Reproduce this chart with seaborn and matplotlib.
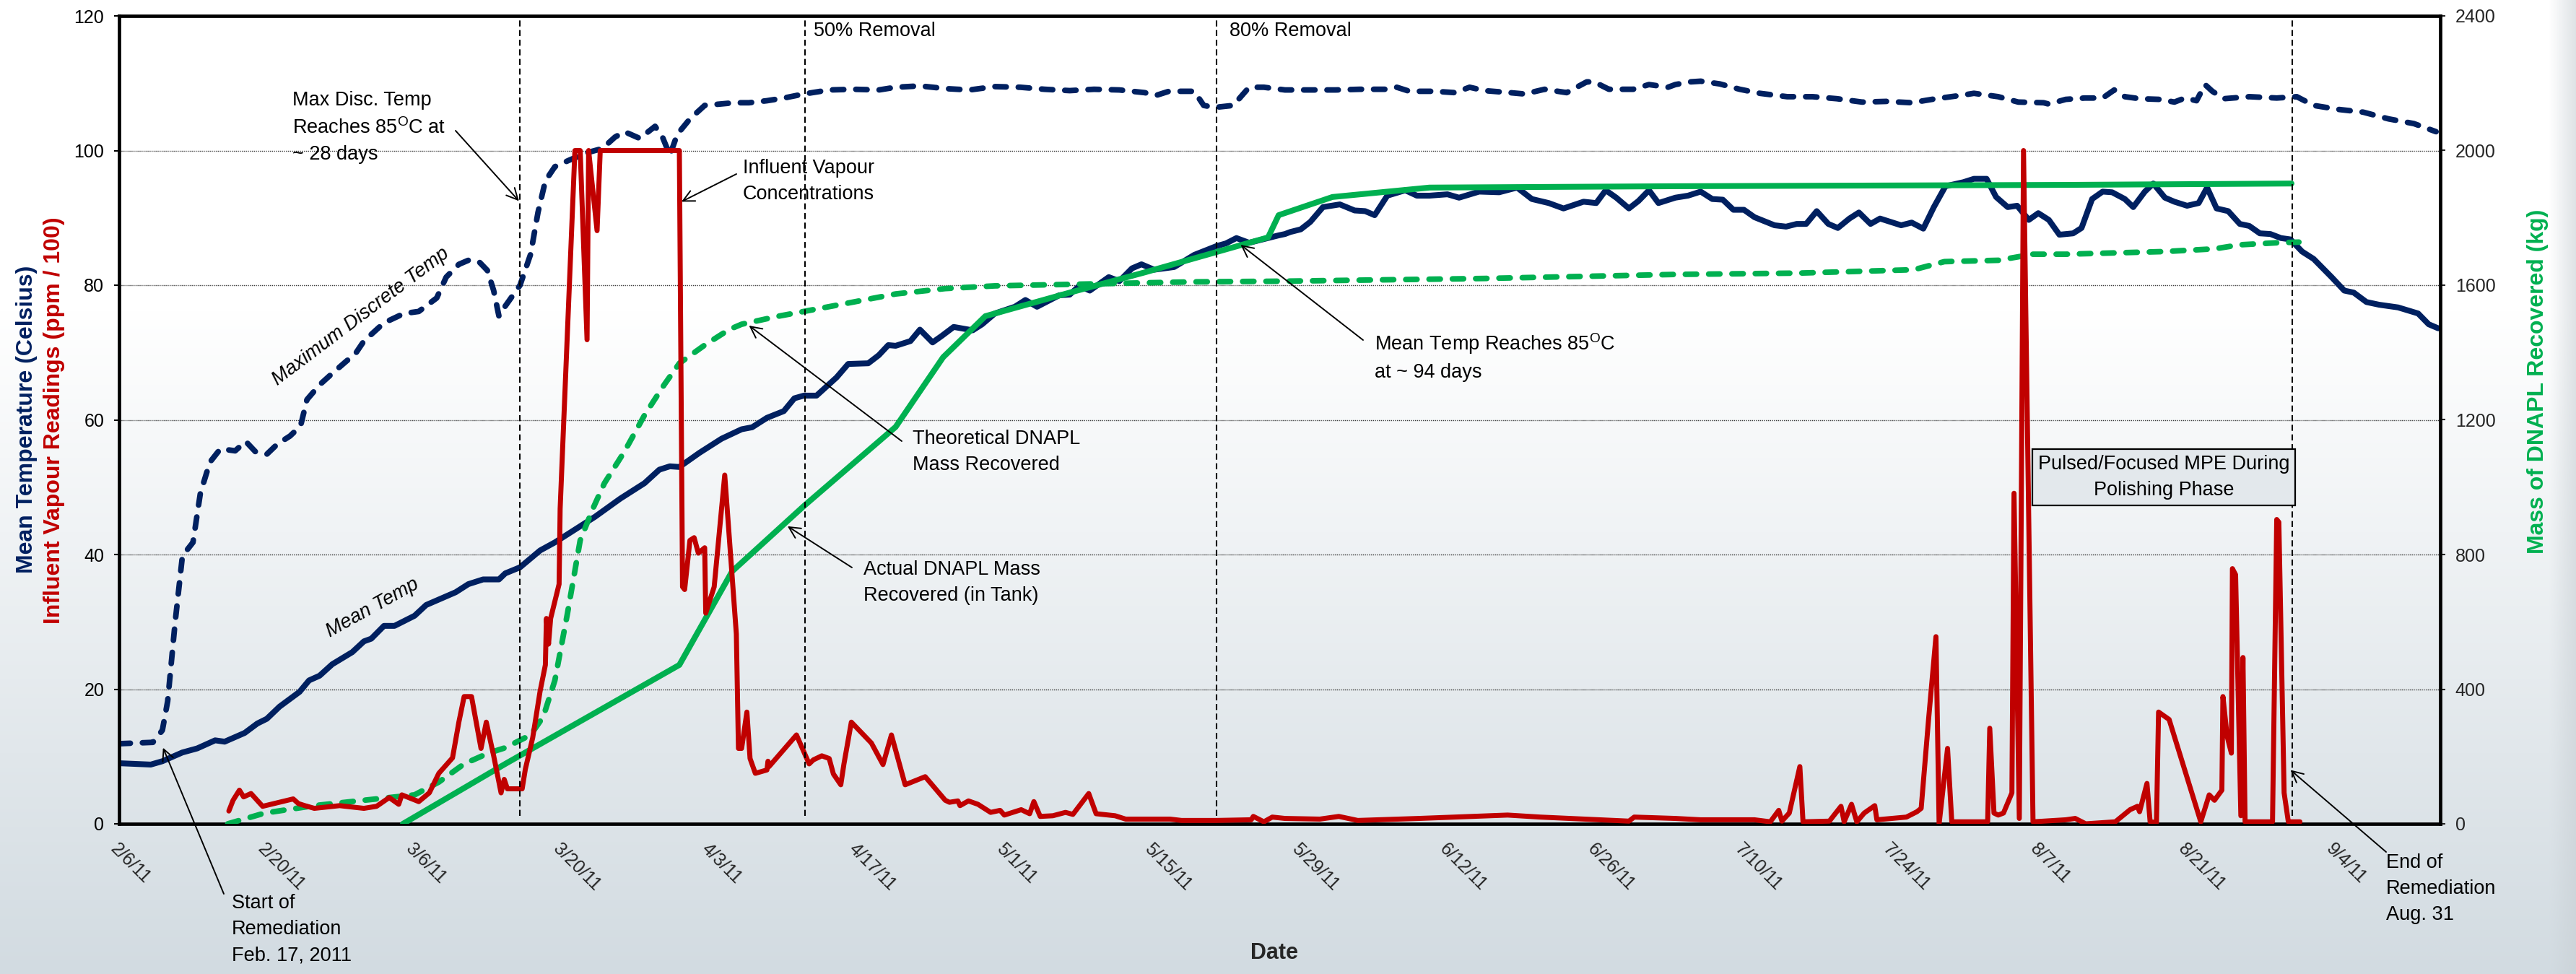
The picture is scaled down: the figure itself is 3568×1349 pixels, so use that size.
import numpy as np
import pandas as pd
import matplotlib
matplotlib.use("Agg")
import matplotlib.pyplot as plt
import matplotlib.dates as mdates
from matplotlib.transforms import ScaledTranslation
import seaborn as sns

# ---------------- data (x = days since 2011-02-06) ----------------
START = pd.Timestamp("2011-02-06")

mean_days = [0, 3.0, 4.1, 6.0, 7.4, 9.1, 10.0, 11.9, 13.1, 14.0, 15.2, 17.1, 18.0, 19.0, 20.2, 22.1,
             23.2, 23.9, 25.1, 26.1, 28.0, 29.1, 31.9, 33.1, 34.5, 36.0, 36.6, 38.0, 39.9, 41.3, 43.2,
             45.1, 47.5, 49.8, 51.2, 52.2, 53.1, 55.0, 57.1, 59.0, 60.0, 61.4, 63.0, 64.0, 64.9, 66.1,
             68.0, 69.1, 71.0, 72.0, 72.9, 73.6, 75.0, 75.9, 77.1, 78.0, 79.1, 80.9, 81.8, 83.0, 84.9,
             85.9, 87.0, 89.1, 90.1, 91.0, 92.0, 93.8, 94.8, 96.0, 96.9, 98.1, 100.0, 101.9, 104.0,
             104.9, 105.9, 107.1, 108.9, 109.9, 110.5, 111.0, 112.0, 112.9, 114.1, 115.7, 117.1, 118.1,
             119.0, 120.2, 121.9, 123.0, 124.2, 125.9, 127.0, 128.9, 130.8, 132.5, 133.9, 135.5, 136.9,
             138.8, 140.0, 140.9, 141.9, 143.1, 144.0, 145.0, 145.9, 147.5, 148.7, 149.9, 151.0, 152.0,
             153.0, 154.0, 155.0, 156.9, 158.0, 159.0, 159.9, 160.9, 162.0, 162.9, 164.0, 164.9, 166.0,
             166.9, 168.9, 169.9, 171.0, 172.0, 173.1, 174.8, 175.8, 177.0, 177.9, 179.0, 179.9, 181.0,
             181.9, 182.9, 183.9, 185.2, 186.0, 187.0, 188.0, 188.9, 190.1, 190.9, 192.0, 192.8, 193.9,
             194.8, 196.0, 197.1, 197.9, 198.8, 199.9, 201.0, 201.9, 202.9, 203.9, 204.9, 205.8, 206.9,
             208.0, 209.7, 210.9, 211.8, 213.0, 214.2, 216.0, 217.9, 218.9, 219.8]
mean_temp = [9.0, 8.8, 9.3, 10.6, 11.2, 12.4, 12.2, 13.5, 14.9, 15.6, 17.4, 19.6, 21.3, 22.0, 23.7, 25.5,
             27.1, 27.5, 29.4, 29.4, 30.9, 32.5, 34.4, 35.6, 36.3, 36.3, 37.2, 38.1, 40.6, 41.8, 43.7,
             45.6, 48.3, 50.6, 52.6, 53.1, 53.0, 55.1, 57.2, 58.6, 58.9, 60.3, 61.3, 63.2, 63.6, 63.6,
             66.3, 68.3, 68.4, 69.6, 71.1, 71.0, 71.7, 73.4, 71.5, 72.5, 73.8, 73.3, 74.2, 75.8, 76.8,
             77.8, 76.8, 78.5, 78.6, 79.9, 79.2, 81.2, 80.6, 82.5, 83.1, 82.3, 82.7, 84.5, 85.8,
             86.2, 87.0, 86.3, 87.0, 87.4, 87.6, 87.9, 88.3, 89.4, 91.6, 92.0, 91.1, 91.0,
             90.4, 93.3, 94.1, 93.3, 93.3, 93.5, 93.0, 93.9, 93.8, 94.5, 92.8, 92.2, 91.4,
             92.4, 92.2, 94.1, 93.0, 91.4, 92.5, 94.1, 92.2, 93.0, 93.3, 93.9, 92.8, 92.7,
             91.2, 91.2, 90.1, 88.9, 88.7, 89.1, 89.1, 91.0, 89.1, 88.5, 89.9, 90.8, 89.1,
             89.9, 88.9, 89.3, 88.4, 91.6, 94.7, 95.3, 95.8, 95.8, 93.1, 91.6, 91.8, 89.7,
             90.7, 89.7, 87.5, 87.7, 88.5, 92.8, 93.9, 93.8, 92.8, 91.6, 93.9, 95.1, 93.0,
             92.4, 91.8, 92.2, 94.5, 91.4, 91.0, 89.1, 88.8, 87.7, 87.6, 87.0, 86.8, 85.0,
             83.9, 81.2, 79.2, 78.9, 77.5, 77.1, 76.7, 75.8, 74.2, 73.6]

maxd_days = [0, 3.2, 4.1, 4.6, 5.3, 6.0, 7.0, 7.7, 8.6, 9.6, 11.0, 12.0, 12.9, 14.0, 15.0, 16.2, 17.2,
             17.8, 19.0, 20.2, 21.6, 22.3, 23.2, 25.1, 27.0, 28.4, 30.1, 31.0, 32.2, 33.1, 34.1, 34.9,
             35.5, 36.0, 36.6, 38.0, 39.0, 39.7, 40.4, 41.3, 42.7, 44.4, 45.8, 47.0, 47.9, 49.35, 50.8,
             51.5, 52.2, 52.9, 54.1, 55.5, 56.9, 58.3, 59.7, 61.4, 63.0, 64.9, 67.3, 69.6, 72.0, 73.6,
             75.9, 78.3, 80.6, 83.0, 85.4, 87.7, 90.1, 92.4, 94.8, 97.2, 98.3, 99.5, 101.9, 102.8, 103.8,
             105.6, 107.1, 108.5, 110.5, 112.9, 115.3, 117.6, 120.0, 121.1, 122.3, 124.7, 126.6, 128.0,
             129.4, 131.8, 133.2, 135.1, 137.2, 139.1, 139.8, 141.2, 143.5, 145.0, 146.8, 147.5, 148.9,
             149.9, 151.7, 153.6, 155.5, 158.1, 160.5, 162.8, 165.2, 167.5, 169.9, 172.2, 174.6, 175.8,
             178.1, 180.0, 182.4, 182.9, 184.5, 186.3, 188.0, 189.1, 190.1, 191.5, 193.4, 194.8, 195.8,
             196.9, 197.7, 198.4, 199.5, 201.9, 204.5, 206.4, 208.0, 210.4, 212.7, 215.1, 217.5, 219.6]
maxd_temp = [11.9, 12.1, 13.9, 18.2, 29.8, 39.8, 41.8, 49.1, 53.7, 55.7, 55.4, 56.8, 55.3, 54.9, 56.4,
             57.6, 59.1, 63.0, 65.2, 66.9, 68.8, 69.6, 71.7, 74.4, 75.8, 76.1, 78.1, 81.2, 83.1, 83.7,
             83.5, 82.2, 79.2, 75.4, 76.9, 80.0, 84.6, 90.8, 95.5, 97.6, 98.6, 99.7, 100.3, 102.0, 102.8,
             101.8, 103.6, 102.0, 99.3, 102.4, 104.7, 106.7, 106.9, 107.1, 107.1, 107.4, 107.8, 108.4,
             109.0, 109.1, 109.0, 109.4, 109.6, 109.2, 109.0, 109.5, 109.4, 109.1, 108.9, 109.1, 109.0,
             108.6, 108.2, 108.8, 108.8, 106.7, 106.4, 106.7, 109.4, 109.4, 109.0, 109.0, 109.0, 109.1,
             109.1, 109.4, 108.8, 108.8, 108.6, 109.4, 108.9, 108.6, 108.4, 109.1, 108.6, 110.2, 110.2,
             109.1, 109.1, 109.8, 109.4, 109.8, 110.2, 110.3, 109.9, 109.1, 108.5, 108.0, 108.0, 107.7,
             107.2, 107.3, 107.1, 107.7, 108.2, 108.5, 108.0, 107.2, 107.1, 106.9, 107.6, 107.8, 107.8,
             109.0, 108.0, 107.7, 107.6, 107.2, 107.8, 107.4, 109.8, 108.8, 107.7, 108.0, 107.8, 108.0,
             106.7, 106.1, 105.7, 104.7, 104.0, 102.8]

vap_days = [10.4, 10.8, 11.4, 11.8, 12.5, 13.6, 16.5, 17.0, 17.6, 18.5, 20.9, 23.2, 24.4, 25.6, 26.5,
            26.8, 28.4, 29.4, 30.3, 31.6, 32.2, 32.7, 33.4, 34.3, 34.8, 35.5, 36.2, 36.5, 36.8, 37.3,
            38.2, 38.5, 39.2, 39.9, 40.4, 40.5, 40.7, 40.9, 41.7, 41.8, 43.2, 43.7, 44.35, 44.5, 45.3,
            45.6, 53.1, 53.4, 53.6, 54.1, 54.5, 54.9, 55.5, 55.6, 56.4, 57.4, 58.1, 58.5, 58.7, 59.0,
            59.5, 59.8, 60.3, 61.4, 61.5, 61.6, 64.2, 65.4, 65.8, 66.6, 67.3, 67.7, 68.4, 68.7, 69.4,
            71.3, 72.4, 73.2, 74.5, 76.4, 78.3, 78.7, 79.5, 79.7, 80.5, 81.4, 82.3, 82.6, 83.5, 83.9,
            85.5, 86.3, 86.7, 87.3, 88.5, 89.7, 90.4, 91.9, 92.6, 94.4, 95.4, 99.6, 100.7, 104.0, 107.3,
            107.5, 108.5, 109.3, 110.5, 113.8, 115.6, 117.4, 123.2, 131.6, 134.7, 143.1, 143.6, 147.5,
            149.9, 152.2, 155.0, 156.5, 157.3, 157.6, 158.3, 159.3, 159.6, 162.1, 163.2, 163.5, 164.2,
            164.7, 165.4, 166.4, 166.6, 169.4, 170.4, 170.8, 171.5, 172.2, 172.5, 173.3, 173.7, 177.1,
            177.3, 177.7, 178.1, 178.6, 179.4, 179.6, 180.1, 180.5, 181.4, 184.5, 185.4, 186.4, 189.2,
            190.6, 191.3, 191.5, 192.2, 192.5, 193.1, 193.3, 194.3, 197.3, 198.1, 198.6, 199.3, 199.4,
            199.8, 200.2, 200.3, 200.6, 201.1, 201.3, 201.5, 204.1, 204.5, 204.7, 205.2, 205.6, 206.7]
vap_vals = [1.9, 3.5, 5.0, 4.0, 4.5, 2.6, 3.7, 3.0, 2.7, 2.3, 2.7, 2.3, 2.6, 3.9, 2.9,
            4.3, 3.3, 4.6, 7.5, 9.8, 15.1, 18.9, 18.9, 11.2, 15.1, 10.1, 4.6, 6.6, 5.2, 5.2,
            5.2, 8.1, 12.8, 19.7, 23.6, 30.5, 26.7, 30.5, 35.6, 46.8, 100, 100, 71.9, 100, 88.1,
            100, 100, 35.2, 34.8, 42.1, 42.5, 40.2, 41.0, 31.3, 35.2, 51.8, 36.7, 28.2, 11.2, 11.2,
            16.6, 9.7, 7.5, 8.0, 9.3, 8.5, 13.2, 8.9, 9.5, 10.1, 9.7, 7.4, 5.8, 8.9, 15.1,
            12.0, 8.8, 13.2, 5.8, 7.0, 3.5, 3.2, 3.4, 2.7, 3.4, 2.9, 2.0, 1.7, 2.0, 1.3,
            2.1, 1.5, 3.3, 1.1, 1.2, 1.7, 1.4, 4.5, 1.5, 1.2, 0.7, 0.7, 0.5, 0.5, 0.6,
            1.1, 0.3, 1.0, 0.8, 0.7, 1.1, 0.5, 0.8, 1.3, 1.0, 0.4, 1.0, 0.8,
            0.6, 0.6, 0.6, 0.3, 2.0, 0.4, 1.6, 8.5, 0.3, 0.4, 2.6, 0.3, 2.9,
            0.3, 1.6, 2.7, 0.6, 1.0, 1.8, 2.3, 15.5, 27.8, 0.0, 11.2, 0.3, 0.3,
            14.2, 1.6, 1.3, 1.6, 4.6, 49.1, 0.8, 100, 0.3, 0.6, 0.8, 0.0, 0.3,
            2.1, 2.6, 1.8, 6.0, 0.3, 0.2, 16.6, 15.5, 0.3, 4.3, 3.5, 5.0, 18.9,
            13.0, 10.5, 37.9, 37.0, 1.2, 24.7, 0.3, 0.3, 45.2, 44.8, 4.6, 0.3, 0.3]

theo_days = [10.3, 13.8, 18.5, 23.2, 28.0, 30.3, 32.7, 35.0, 36.6, 39.0, 40.2, 41.3, 42.5, 43.7, 44.9,
             46.0, 47.9, 49.8, 51.7, 53.1, 55.5, 57.8, 59.0, 62.5, 64.9, 69.6, 73.6, 78.3, 83.0, 92.4,
             101.9, 110.5, 129.4, 147.5, 159.3, 170.1, 173.0, 178.1, 180.3, 180.6, 184.5, 193.9, 198.6,
             201.0, 204.5, 206.6]
theo_kg = [0, 32, 54, 70, 86, 124, 178, 210, 226, 264, 318, 426, 626, 842, 936,
           1012, 1106, 1214, 1306, 1368, 1422, 1468, 1484, 1508, 1522, 1550, 1574, 1590, 1598, 1604,
           1610, 1612, 1620, 1632, 1636, 1646, 1670, 1674, 1686, 1692, 1692, 1700, 1708,
           1720, 1726, 1728]

act_days = [26.9, 36.6, 53.1, 58.1, 64.9, 73.6, 78.1, 82.1, 90.1, 97.2, 108.9, 109.9, 115.0, 124.2,
            147.5, 184.5, 205.9]
act_kg = [0, 178, 472, 750, 944, 1179, 1386, 1508, 1578, 1638, 1742, 1808, 1862, 1890,
          1894, 1898, 1902]

tick_days = list(range(0, 211, 14))
event_days = [38, 65, 104, 206]        # 3/16, 4/12, 5/21, 8/31
left_ticks = [0, 20, 40, 60, 80, 100, 120]
right_ticks = [0, 400, 800, 1200, 1600, 2000, 2400]

NAVY = "#002060"
RED = "#C00000"
GREEN = "#00B050"

# ---------------- helpers ----------------
W, H = 3568, 1349


def dates(days):
    return START + pd.to_timedelta(np.asarray(days, dtype=float), unit="D")


def P(x, y):
    """reference pixel -> figure fraction"""
    return (x / W, 1 - y / H)


def dn(day):
    return mdates.date2num(START + pd.Timedelta(days=day))


sns.set_theme(style="white")
plt.rcParams["font.family"] = ["Liberation Sans", "DejaVu Sans"]
plt.rcParams["mathtext.fontset"] = "custom"
plt.rcParams["mathtext.rm"] = "Liberation Sans"
plt.rcParams["mathtext.it"] = "Liberation Sans:italic"

fig = plt.figure(figsize=(W / 100, H / 100), dpi=100)

# background gradient (vertical) plus a slight darker strip on the right edge
bg = fig.add_axes([0, 0, 1, 1], zorder=-10)
bg.set_axis_off()
ypix = np.arange(H)
t = np.clip((ypix - 430) / (H - 430), 0, 1)[:, None, None]
xpix = np.arange(W)
s = np.clip((xpix - 3530) / (W - 3530), 0, 1)[None, :, None]
top = np.array([1.0, 1.0, 1.0])
bot = np.array([0xd2, 0xdb, 0xe1]) / 255
grad = top * (1 - t) + bot * t
edge = np.array([0xc8, 0xcf, 0xd4]) / 255
img = grad * (1 - 0.6 * s) + edge * 0.6 * s
bg.imshow(img, aspect="auto", extent=[0, 1, 0, 1], origin="upper", interpolation="bilinear")

ax = fig.add_axes([165 / W, 1 - 1141 / H, (3380 - 165) / W, (1141 - 22) / H])
ax.set_facecolor("none")
ax2 = ax.twinx()
ax3 = ax.twinx()
for a in (ax2, ax3):
    a.set_facecolor("none")

dash = (0, (2.0, 2.15))

df_mean = pd.DataFrame({"Date": dates(mean_days), "T": mean_temp})
df_maxd = pd.DataFrame({"Date": dates(maxd_days), "T": maxd_temp})
df_vap = pd.DataFrame({"Date": dates(vap_days), "T": vap_vals})
df_theo = pd.DataFrame({"Date": dates(theo_days), "M": theo_kg})
df_act = pd.DataFrame({"Date": dates(act_days), "M": act_kg})

sns.lineplot(data=df_maxd, x="Date", y="T", ax=ax, color=NAVY, lw=5.6, linestyle=dash,
             dash_capstyle="round", sort=False, estimator=None)
sns.lineplot(data=df_mean, x="Date", y="T", ax=ax, color=NAVY, lw=5.8, sort=False, estimator=None,
             solid_joinstyle="round")
sns.lineplot(data=df_theo, x="Date", y="M", ax=ax2, color=GREEN, lw=5.6, linestyle=dash,
             dash_capstyle="round", sort=False, estimator=None)
sns.lineplot(data=df_act, x="Date", y="M", ax=ax2, color=GREEN, lw=5.8, sort=False, estimator=None)
sns.lineplot(data=df_vap, x="Date", y="T", ax=ax3, color=RED, lw=5.0, sort=False, estimator=None,
             solid_joinstyle="round")

xmin, xmax = START, START + pd.Timedelta(days=220)
for a in (ax, ax2, ax3):
    a.set_xlim(xmin, xmax)
    a.set_xlabel("")
    a.set_ylabel("")
ax.set_ylim(0, 120)
ax3.set_ylim(0, 120)
ax2.set_ylim(0, 2400)

# grid
ax.set_yticks(left_ticks)
ax.yaxis.grid(True, color="#3a3a3a", lw=1.0, ls=(0, (1, 1)))
ax.xaxis.grid(False)
ax.set_axisbelow(True)

# ticks
tick_dates = dates(tick_days)
ax.set_xticks(tick_dates)
ax.set_xticklabels([f"{d.month}/{d.day}/{d:%y}" for d in tick_dates], rotation=-45,
                   ha="left", va="top", rotation_mode="anchor", fontsize=18)
off = ScaledTranslation(10 / 72, 0, fig.dpi_scale_trans)
for lab in ax.get_xticklabels():
    lab.set_transform(lab.get_transform() + off)
ax.tick_params(axis="x", length=0, pad=16)
ax.tick_params(axis="y", direction="out", length=5, width=1.5, pad=10, labelsize=18,
               colors="black", left=True)
ax2.set_yticks(right_ticks)
ax2.tick_params(axis="y", direction="out", length=5, width=1.5, pad=10, labelsize=18,
                right=True)
ax3.set_axis_off()

for a in (ax, ax2):
    for sp in a.spines.values():
        sp.set_visible(False)
for name in ("left", "bottom", "top"):
    ax.spines[name].set_visible(True)
    ax.spines[name].set_color("black")
    ax.spines[name].set_linewidth(3.4)
ax2.spines["right"].set_visible(True)
ax2.spines["right"].set_color("black")
ax2.spines["right"].set_linewidth(3.4)

# vertical event lines
for d in event_days:
    ax3.axvline(dn(d), ymin=0.01, ymax=1, color="black", lw=1.5, ls=(0, (4, 2.4)), zorder=5)

# ---------------- text ----------------
FS = 19.5
LS = 1.5
tk = dict(fontsize=FS, color="black", transform=fig.transFigure, linespacing=LS)
arrow = dict(arrowstyle="->", color="black", lw=1.4, shrinkA=0, shrinkB=0, mutation_scale=28)


def note(text, xy_day, xy_val, tail_px, text_px, **kw):
    ax3.annotate("", xy=(dn(xy_day), xy_val), xycoords="data",
                 xytext=P(*tail_px), textcoords="figure fraction",
                 arrowprops=arrow, annotation_clip=False)
    fig.text(*P(*text_px), text, ha="left", va="top", **tk, **kw)


note("Max Disc. Temp\nReaches 85$^{\\mathrm{O}}$C at\n~ 28 days", 37.9, 92.5, (631, 181), (405, 126))
note("Influent Vapour\nConcentrations", 53.3, 92.4, (1020, 241), (1029, 220))
note("Theoretical DNAPL\nMass Recovered", 59.7, 74.0, (1249, 611), (1264, 595))
note("Actual DNAPL Mass\nRecovered (in Tank)", 63.35, 44.2, (1180, 786), (1196, 776))
note("Mean Temp Reaches 85$^{\\mathrm{O}}$C\nat ~ 94 days", 106.3, 86.0, (1888, 471), (1904, 459))
note("Start of\nRemediation\nFeb. 17, 2011", 4.16, 11.3, (310, 1238), (321, 1238))
note("End of\nRemediation\nAug. 31", 205.8, 8.0, (3305, 1180), (3305, 1182))

fig.text(*P(1127, 30), "50% Removal", ha="left", va="top", **tk)
fig.text(*P(1703, 30), "80% Removal", ha="left", va="top", **tk)

fig.text(*P(500, 439), "Maximum Discrete Temp", ha="center", va="center", rotation=37,
         rotation_mode="anchor", style="italic", **tk)
fig.text(*P(516, 842), "Mean Temp", ha="center", va="center", rotation=29,
         rotation_mode="anchor", style="italic", **tk)

fig.text(*P(2997, 661), "Pulsed/Focused MPE During\nPolishing Phase", ha="center", va="center",
         multialignment="center",
         bbox=dict(boxstyle="square,pad=0.3", fc="#e3e8ec", ec="black", lw=1.6), zorder=6, **tk)

# axis labels
lab_kw = dict(fontsize=23, fontweight="bold", rotation=90, ha="center", va="center",
              transform=fig.transFigure)
fig.text(*P(37, 581), "Mean Temperature (Celsius)", color=NAVY, **lab_kw)
fig.text(*P(75, 582), "Influent Vapour Readings (ppm / 100)", color=RED, **lab_kw)
fig.text(*P(3515, 528), "Mass of DNAPL Recovered (kg)", color=GREEN, **lab_kw)
fig.text(*P(1765, 1320), "Date", fontsize=22, fontweight="bold", ha="center", va="center",
         transform=fig.transFigure)

fig.savefig("out.png", dpi=100)
